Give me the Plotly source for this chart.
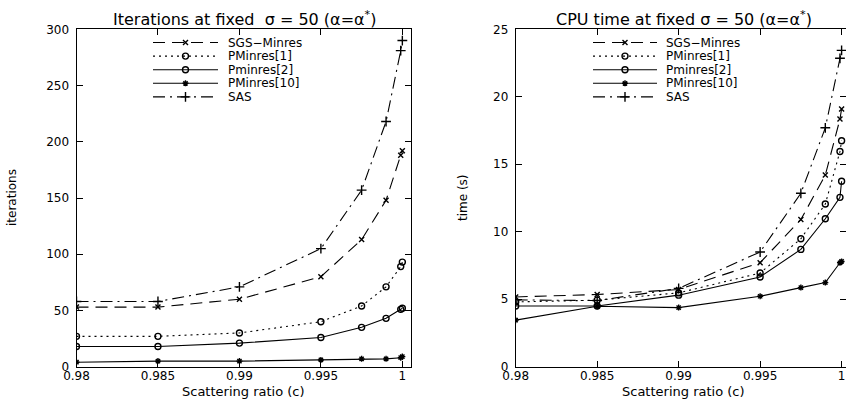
import plotly.graph_objects as go

# ---------------- data ----------------
c = [0.98, 0.985, 0.99, 0.995, 0.9975, 0.999, 0.9999, 1.0]
x_ticks = [0.98, 0.985, 0.99, 0.995, 1.0]
x_ticktext = ["0.98", "0.985", "0.99", "0.995", "1"]

names = ["SGS−Minres", "PMinres[1]", "Pminres[2]", "PMinres[10]", "SAS"]

iter_sgs = [53, 53, 60, 80, 113, 148, 188, 192]
iter_pm1 = [27, 27, 30, 40, 54, 71, 89, 93]
iter_pm2 = [18, 18, 21, 26, 35, 43, 51, 52]
iter_pm10 = [4, 5, 5, 6, 7, 7, 8, 9]
iter_sas = [58, 58, 71, 105, 157, 218, 281, 290]

cpu_sgs = [5.17, 5.35, 5.72, 7.71, 10.9, 14.2, 18.35, 19.1]
cpu_pm1 = [4.8, 4.93, 5.47, 6.94, 9.48, 12.05, 15.95, 16.74]
cpu_pm2 = [4.5, 4.5, 5.3, 6.65, 8.69, 10.96, 12.55, 13.74]
cpu_pm10 = [3.45, 4.48, 4.38, 5.22, 5.86, 6.23, 7.7, 7.8]
cpu_sas = [4.95, 4.9, 5.8, 8.5, 12.85, 17.7, 22.85, 23.44]

iter_ticks = [0, 50, 100, 150, 200, 250, 300]
cpu_ticks = [0, 5, 10, 15, 20, 25]

# ---------------- styles ----------------
dashes = ["12px,7px", "2px,4px", "solid", "solid", "12px,5px,2px,5px"]
symbols = ["x-thin-open", "circle-open", "circle-open", "asterisk-open", "cross-thin-open"]
msizes = [5, 6, 6, 5, 7]

W, H = 846, 399
FONT = "DejaVu Sans"

fig = go.Figure()

iter_series = [iter_sgs, iter_pm1, iter_pm2, iter_pm10, iter_sas]
cpu_series = [cpu_sgs, cpu_pm1, cpu_pm2, cpu_pm10, cpu_sas]

for i in range(5):
    fig.add_trace(go.Scatter(
        x=c, y=iter_series[i], mode="lines+markers", name=names[i],
        line=dict(color="black", width=1.1, dash=dashes[i]),
        marker=dict(symbol=symbols[i], size=msizes[i], color="black",
                    line=dict(color="black", width=1.4)),
        xaxis="x", yaxis="y", showlegend=False))
for i in range(5):
    fig.add_trace(go.Scatter(
        x=c, y=cpu_series[i], mode="lines+markers", name=names[i],
        line=dict(color="black", width=1.1, dash=dashes[i]),
        marker=dict(symbol=symbols[i], size=msizes[i], color="black",
                    line=dict(color="black", width=1.4)),
        xaxis="x2", yaxis="y2", showlegend=False))

# ------------- manual legends (pixel overlay axis x3/y3) -------------
legend_specs = [(153, 218, 226), (593, 657, 664)]  # line x0, x1, text x
row0, drow = 42.5, 13.6
for (lx0, lx1, tx) in legend_specs:
    for i in range(5):
        yy = row0 + drow * i
        fig.add_shape(type="line", xref="x3", yref="y3", x0=lx0, x1=lx1, y0=yy, y1=yy,
                      line=dict(color="black", width=1.1, dash=dashes[i]))
        fig.add_trace(go.Scatter(
            x=[(lx0 + lx1) / 2], y=[yy], mode="markers", xaxis="x3", yaxis="y3",
            marker=dict(symbol=symbols[i], size=msizes[i], color="black",
                        line=dict(color="black", width=1.4)),
            showlegend=False, hoverinfo="skip"))
        fig.add_annotation(x=tx, y=yy, xref="x3", yref="y3", text=names[i],
                           showarrow=False, xanchor="left", yanchor="middle",
                           font=dict(family=FONT, size=12, color="black"))

# ------------- titles and axis titles -------------
txt = [
    ("Iterations at fixed  σ = 50 (α=α<sup>*</sup>)", 244, 18, 0, 16),
    ("CPU time at fixed σ = 50 (α=α<sup>*</sup>)", 684, 18, 0, 16),
    ("Scattering ratio (c)", 243.5, 391, 0, 13),
    ("Scattering ratio (c)", 683, 391, 0, 13),
    ("iterations", 12, 198, -90, 12),
    ("time (s)", 463, 198, -90, 12),
]
for t, x, y, ang, sz in txt:
    fig.add_annotation(x=x, y=y, xref="x3", yref="y3", text=t, showarrow=False,
                       xanchor="center", yanchor="middle", textangle=ang,
                       font=dict(family=FONT, size=sz, color="black"))

ax_common = dict(showgrid=False, zeroline=False, ticks="inside", ticklen=6,
                 tickcolor="black", showline=True, linecolor="black", linewidth=1,
                 mirror="ticks", automargin=False,
                 tickfont=dict(family=FONT, size=12, color="black"))

ybot, ytop = (H - 366.7) / H, (H - 29.3) / H
fig.update_layout(
    width=W, height=H, margin=dict(l=0, r=0, t=0, b=0, pad=0),
    paper_bgcolor="white", plot_bgcolor="rgba(0,0,0,0)",
    xaxis=dict(domain=[76.5 / W, 410.5 / W], range=[0.98, 1.0005],
               tickvals=x_ticks, ticktext=x_ticktext, anchor="y",
               ticklabelstandoff=-2, **ax_common),
    yaxis=dict(domain=[ybot, ytop], range=[0, 300], tickvals=iter_ticks,
               anchor="x", ticklabelstandoff=4, **ax_common),
    xaxis2=dict(domain=[515.7 / W, 1.0], range=[0.98, 1.00027],
                tickvals=x_ticks, ticktext=x_ticktext, anchor="y2",
                ticklabelstandoff=-2, **ax_common),
    yaxis2=dict(domain=[ybot, ytop], range=[0, 25], tickvals=cpu_ticks,
                anchor="x2", ticklabelstandoff=4, **ax_common),
    xaxis3=dict(domain=[0, 1], range=[0, W], visible=False, anchor="y3",
                fixedrange=True, automargin=False),
    yaxis3=dict(domain=[0, 1], range=[H, 0], visible=False, anchor="x3",
                fixedrange=True, automargin=False),
    showlegend=False,
)

fig.write_html("out.html")
